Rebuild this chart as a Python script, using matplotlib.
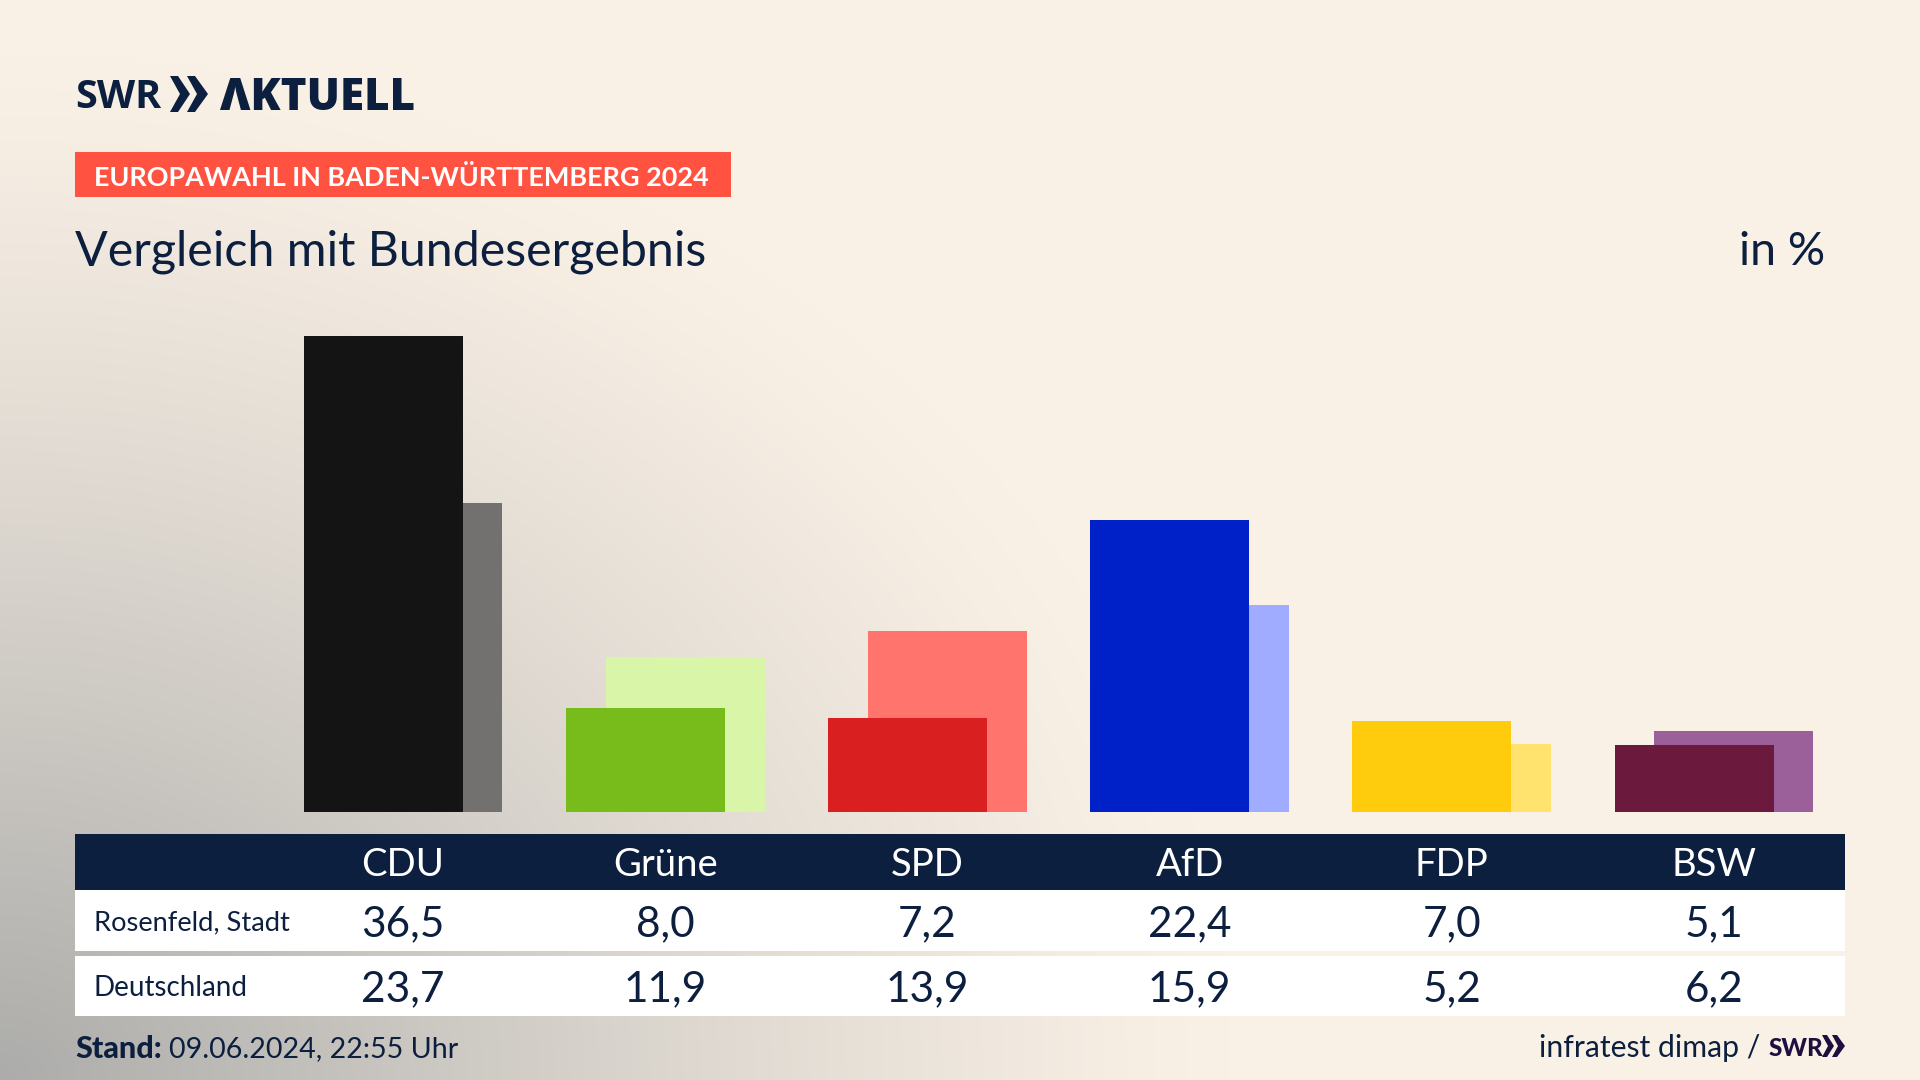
import numpy as np
import matplotlib
matplotlib.use('Agg')
from matplotlib import pyplot as plt
from matplotlib.patches import Rectangle, Polygon
from matplotlib.transforms import blended_transform_factory

parties = ['CDU', 'Grüne', 'SPD', 'AfD', 'FDP', 'BSW']
rosenfeld = [36.5, 8.0, 7.2, 22.4, 7.0, 5.1]
deutschland = [23.7, 11.9, 13.9, 15.9, 5.2, 6.2]
front_colors = ['#141414', '#78BC1B', '#D91F1F', '#0020C8', '#FFCC0D', '#6B1A3E']
back_colors = ['#737170', '#D8F5A8', '#FF746C', '#9FACFF', '#FFE36E', '#9B609A']
row_names = ['Rosenfeld, Stadt', 'Deutschland']

W, H = 1920, 1080
NAVY = '#0C1F3F'
plt.rcParams['font.family'] = ['Lato', 'DejaVu Sans']

fig = plt.figure(figsize=(W / 100, H / 100), dpi=100)

# background gradient, grey in the lower left corner
bg = fig.add_axes([0, 0, 1, 1], zorder=0)
yy, xx = np.mgrid[0:1:270j, 0:1:480j]
d = np.sqrt((xx / 0.64) ** 2 + ((1 - yy) / 0.95) ** 2)
t = np.clip(1 - d, 0, 1) ** 1.2
cream = np.array([250, 241, 230]) / 255
grey = np.array([172, 172, 170]) / 255
img = cream + (grey - cream) * t[..., None]
bg.imshow(img, aspect='auto', extent=[0, 1, 0, 1], origin='upper', interpolation='bilinear')
bg.axis('off')

# pixel axes for the texts and the table
ov = fig.add_axes([0, 0, 1, 1], zorder=1)
ov.set_xlim(0, W)
ov.set_ylim(H, 0)
ov.axis('off')
ov.patch.set_alpha(0)

# bars
left, right, base, top = 75, 1845, 812, 280
ax = fig.add_axes([left / W, 1 - base / H, (right - left) / W, (base - top) / H], zorder=2)
ax.patch.set_alpha(0)
ax.axis('off')
step = 262.2
ax.set_xlim((left - 403) / step, (right - 403) / step)
ax.set_ylim(0, (base - top) / 13.05)
pos = np.arange(len(parties))
ax.bar(pos + 0.076, deutschland, width=0.606, color=back_colors, zorder=2)
ax.bar(pos - 0.076, rosenfeld, width=0.606, color=front_colors, zorder=3)

# table
ov.add_patch(Rectangle((75, 834), 1770, 56, color=NAVY, lw=0))
ov.add_patch(Rectangle((75, 890), 1770, 61, color='white', lw=0))
ov.add_patch(Rectangle((75, 956), 1770, 60, color='white', lw=0))
tr = blended_transform_factory(ax.transData, ov.transData)
for i, p in enumerate(parties):
    ov.text(i, 862, p, transform=tr, color='white', fontsize=27.5, ha='center', va='center_baseline')
    ov.text(i, 921, f'{rosenfeld[i]:.1f}'.replace('.', ','), transform=tr, color=NAVY, fontsize=30.5,
            ha='center', va='center_baseline')
    ov.text(i, 986, f'{deutschland[i]:.1f}'.replace('.', ','), transform=tr, color=NAVY, fontsize=30.5,
            ha='center', va='center_baseline')
ov.text(94, 920, row_names[0], color=NAVY, fontsize=19.6, va='center_baseline')
ov.text(94, 986, row_names[1], color=NAVY, fontsize=20, va='center_baseline')

# header
ov.text(75, 93, 'SWR', color=NAVY, fontsize=28.5, fontweight='bold', va='center_baseline',
        family=['Open Sans', 'DejaVu Sans'])
ov.add_patch(Polygon([(170, 76), (178, 76), (190, 94), (178, 112), (170, 112), (180, 94)], color=NAVY, lw=0))
ov.add_patch(Polygon([(187, 76), (195, 76), (208, 94), (195, 112), (187, 112), (197, 94)], color=NAVY, lw=0))
ov.text(220, 93, 'ΛKTUELL', color=NAVY, fontsize=31.6, fontweight='black', va='center_baseline',
        family=['Open Sans', 'DejaVu Sans'])
ov.add_patch(Rectangle((75, 152), 656, 45, color='#FF5240', lw=0))
ov.text(94, 175, 'EUROPAWAHL IN BADEN-WÜRTTEMBERG 2024', color='white', fontsize=19.45, fontweight='bold',
        va='center_baseline')
ov.text(75, 248, 'Vergleich mit Bundesergebnis', color=NAVY, fontsize=34.8, va='center_baseline')
ov.text(1825, 248, 'in %', color=NAVY, fontsize=33.5, ha='right', va='center_baseline')

# footer
ov.text(75, 1047, 'Stand:', color=NAVY, fontsize=22, fontweight='black', va='center_baseline')
ov.text(169, 1047, '09.06.2024, 22:55 Uhr', color=NAVY, fontsize=20.6, va='center_baseline')
ov.text(1760, 1046, 'infratest dimap /', color=NAVY, fontsize=21.7, ha='right', va='center_baseline')
ov.text(1769, 1046, 'SWR', color='#1E0F3F', fontsize=17.5, fontweight='black', va='center_baseline')
ov.add_patch(Polygon([(1822, 1035), (1827, 1035), (1834, 1046), (1827, 1057), (1822, 1057), (1828, 1046)], color='#1E0F3F', lw=0))
ov.add_patch(Polygon([(1832, 1035), (1837, 1035), (1845, 1046), (1837, 1057), (1832, 1057), (1838, 1046)], color='#1E0F3F', lw=0))

fig.savefig('out.png', dpi=100)
